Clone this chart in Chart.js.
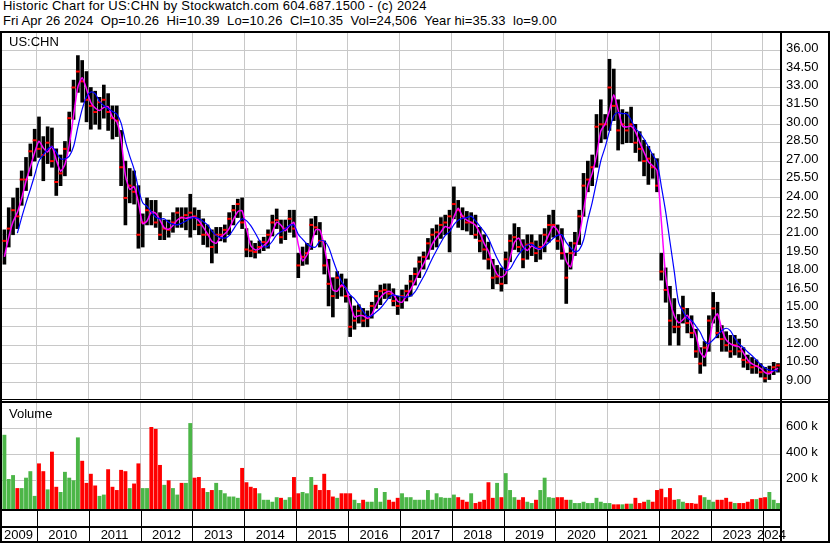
<!DOCTYPE html>
<html>
<head>
<meta charset="utf-8">
<script src="https://cdn.jsdelivr.net/npm/chart.js@4.4.1/dist/chart.umd.min.js"></script>
<style>
body { margin:0; background:#fff; width:830px; height:543px; overflow:hidden; position:relative; font-family:Arial, "Liberation Sans", sans-serif; }
.t { position:absolute; font-size:13px; line-height:15px; white-space:pre; color:#000; }
.k { position:absolute; background:#000; }
canvas { position:absolute; left:0; }
</style>
</head>
<body>
<div class="t" style="left:3px;top:-2px;letter-spacing:0.22px">Historic Chart for US:CHN by Stockwatch.com 604.687.1500 - (c) 2024</div>
<div class="t" style="left:3px;top:13px;letter-spacing:0.1px">Fri Apr 26 2024  Op=10.26  Hi=10.39  Lo=10.26  Cl=10.35  Vol=24,506  Year hi=35.33  lo=9.00</div>
<canvas id="price" width="830" height="366" style="top:33px"></canvas>
<canvas id="vol" width="830" height="140" style="top:403px"></canvas>
<div class="t" style="left:9px;top:34px">US:CHN</div>
<div class="t" style="left:9px;top:406px">Volume</div>
<div class="k" style="left:0;top:31px;width:830px;height:2px"></div>
<div class="k" style="left:0;top:31px;width:2px;height:512px"></div>
<div class="k" style="left:828px;top:31px;width:2px;height:512px"></div>
<div class="k" style="left:780px;top:31px;width:2px;height:512px"></div>
<div class="k" style="left:0;top:399px;width:830px;height:1px"></div>
<div class="k" style="left:0;top:401px;width:830px;height:2px"></div>
<div class="k" style="left:0;top:541px;width:830px;height:2px"></div>
<script>
// monthly bars, Apr 2009 .. Apr 2024
var firstYear = 2009, firstMonth = 4;

var highs = [
  19.5, 21.4, 23.2, 24.0, 24.8, 26.2, 27.3, 28.4, 29.6,                 // 2009
  30.6, 29.0, 29.8, 29.7, 28.0, 27.5, 28.6, 31.0, 33.6, 35.6, 35.2, 34.3, // 2010
  33.0, 32.7, 32.2, 33.2, 32.5, 31.5, 31.5, 29.5, 27.0, 26.4, 26.2, 25.0, // 2011
  22.7, 24.0, 23.8, 23.8, 22.8, 22.2, 22.2, 22.8, 23.2, 23.2, 23.2, 24.3, // 2012
  23.2, 23.0, 22.3, 21.8, 21.4, 21.6, 21.6, 21.8, 22.8, 23.4, 23.9, 24.0, // 2013
  21.5, 20.5, 20.3, 20.5, 20.8, 21.4, 22.6, 23.1, 22.2, 22.2, 23.0, 23.0, // 2014
  19.5, 20.0, 20.3, 22.3, 22.5, 22.0, 20.5, 19.0, 17.5, 18.0, 17.8, 17.4, // 2015
  16.0, 15.2, 15.3, 15.0, 14.8, 15.5, 16.4, 16.9, 17.0, 17.0, 16.6, 16.0, // 2016
  16.5, 16.9, 17.7, 18.3, 19.2, 19.6, 20.7, 21.5, 21.8, 22.4, 22.6, 23.0, // 2017
  24.9, 23.8, 23.2, 22.9, 22.8, 22.6, 21.6, 21.0, 20.4, 19.0, 18.5, 18.3, // 2018
  19.6, 21.0, 21.9, 21.6, 20.6, 21.0, 21.0, 20.5, 21.0, 21.5, 22.6, 23.0, // 2019
  21.8, 21.5, 19.5, 20.4, 21.2, 23.0, 26.0, 27.0, 27.5, 30.8, 32.0, 30.8, // 2020
  35.3, 34.5, 32.0, 31.2, 31.0, 31.4, 30.0, 29.4, 28.7, 28.2, 27.6, 27.2, // 2021
  19.5, 18.3, 16.8, 15.8, 14.5, 16.0, 15.0, 14.4, 13.3, 11.8, 12.3, 14.4, // 2022
  16.3, 15.5, 13.6, 13.1, 12.8, 12.8, 12.5, 11.8, 11.2, 11.0, 10.8, 10.5, // 2023
  10.2, 10.3, 10.6, 10.5                                                  // 2024
];
var lows = [
  17.3, 18.6, 20.0, 21.0, 21.5, 23.4, 24.6, 25.8, 27.0,
  27.3, 25.4, 26.8, 26.5, 24.2, 25.0, 25.8, 27.8, 30.4, 32.6, 31.8, 30.2,
  29.6, 30.0, 29.6, 30.5, 29.5, 28.8, 29.0, 25.0, 21.8, 23.6, 23.5, 19.9,
  20.0, 21.8, 21.8, 21.6, 20.6, 20.6, 20.8, 21.2, 21.6, 21.6, 21.4, 20.8,
  21.4, 21.0, 20.2, 20.0, 18.7, 19.5, 20.5, 20.4, 21.0, 21.8, 22.4, 21.5,
  19.2, 19.2, 19.1, 19.5, 19.7, 19.9, 20.9, 21.5, 20.3, 20.6, 21.2, 20.8,
  17.5, 18.5, 18.6, 19.8, 21.0, 20.0, 17.8, 15.2, 14.3, 15.8, 16.0, 15.5,
  12.7, 13.3, 13.8, 13.5, 13.5, 14.2, 15.0, 15.3, 15.8, 15.8, 15.2, 14.5,
  15.0, 15.6, 16.0, 16.9, 17.5, 18.2, 19.0, 19.8, 20.0, 20.7, 21.0, 19.6,
  22.3, 21.6, 21.4, 21.3, 21.0, 20.7, 19.6, 19.0, 18.2, 16.6, 17.0, 16.4,
  17.0, 18.8, 19.8, 19.6, 18.3, 19.0, 19.3, 18.8, 19.0, 19.6, 20.4, 20.8,
  19.8, 19.0, 15.4, 18.2, 19.3, 20.2, 22.5, 24.5, 25.0, 26.5, 28.5, 28.8,
  29.5, 30.3, 27.9, 28.4, 28.5, 28.5, 27.7, 27.0, 25.8, 25.1, 25.6, 24.5,
  17.3, 15.5, 12.0, 13.0, 12.0, 13.8, 13.0, 12.6, 11.0,  9.7, 10.3, 11.5,
  13.8, 12.6, 11.5, 11.5, 11.0, 11.2, 11.0, 10.2, 10.0,  9.7,  9.7,  9.4,
   9.0,  9.2,  9.6,  9.8
];
var closes = [
  18.8, 20.5, 21.5, 23.0, 22.5, 25.5, 25.5, 27.8, 28.7,
  28.0, 27.5, 28.5, 27.0, 25.3, 26.0, 28.0, 30.5, 33.0, 34.3, 33.5, 32.0,
  31.5, 31.0, 31.8, 32.0, 31.0, 30.5, 30.3, 26.5, 24.0, 25.0, 24.5, 21.0,
  22.0, 23.0, 22.8, 22.0, 21.0, 21.5, 21.4, 22.0, 22.8, 22.4, 22.6, 22.8,
  22.5, 21.8, 21.0, 21.0, 20.0, 21.0, 21.0, 21.4, 22.3, 23.0, 23.5, 22.0,
  19.8, 19.7, 19.6, 20.0, 20.4, 21.0, 22.0, 22.2, 20.8, 21.5, 22.3, 21.5,
  18.5, 19.2, 19.5, 21.8, 21.6, 20.5, 18.5, 17.0, 16.0, 17.5, 16.8, 16.0,
  13.5, 14.0, 14.8, 14.0, 14.2, 15.2, 16.0, 16.4, 16.5, 16.2, 15.6, 15.2,
  16.0, 16.4, 17.2, 17.8, 18.8, 19.2, 20.3, 21.0, 21.2, 21.8, 22.0, 22.5,
  23.5, 23.0, 22.5, 22.0, 22.0, 21.0, 20.5, 19.8, 19.0, 17.5, 17.6, 17.0,
  19.0, 20.5, 20.8, 20.0, 19.0, 20.2, 20.3, 19.5, 20.0, 21.0, 21.8, 21.8,
  20.5, 19.5, 17.5, 19.5, 20.3, 22.5, 25.0, 25.5, 26.5, 29.8, 30.0, 30.0,
  33.0, 31.5, 29.5, 30.0, 29.5, 30.0, 28.5, 28.0, 27.0, 27.2, 26.5, 25.0,
  18.0, 16.5, 14.0, 13.5, 13.5, 15.0, 13.8, 13.0, 11.5, 10.5, 11.8, 14.0,
  15.0, 13.0, 12.5, 12.0, 11.5, 12.0, 11.5, 10.8, 10.6, 10.2, 10.3,  9.8,
   9.3,  9.8, 10.2, 10.35
];
// volume, thousands of shares
var volumes = [
  220, 550, 210, 240, 140, 140, 220, 270, 80,
  330, 270, 130, 420, 150, 110, 265, 220, 200, 530, 350, 180,
  250, 160, 80, 90, 285, 150, 125, 280, 270, 140, 175, 330,
  140, 140, 610, 595, 318, 165, 200, 140, 90, 180, 180, 640,
  220, 225, 140, 110, 125, 180, 125, 100, 75, 75, 65, 295,
  185, 150, 140, 100, 50, 50, 35, 70, 65, 50, 70, 225,
  100, 110, 100, 225, 165, 125, 250, 125, 75, 65, 100, 100,
  100, 50, 25, 50, 35, 35, 140, 35, 110, 50, 35, 65,
  100, 70, 70, 50, 50, 50, 125, 50, 100, 70, 65, 65,
  90, 70, 50, 35, 100, 25, 35, 50, 185, 65, 180, 70,
  255, 125, 70, 50, 70, 35, 25, 50, 125, 220, 70, 65,
  70, 70, 50, 50, 25, 25, 35, 25, 25, 65, 35, 25,
  25, 15, 15, 15, 20, 20, 65, 25, 35, 50, 35, 125,
  135, 70, 140, 50, 55, 35, 25, 25, 20, 85, 70, 50,
  35, 50, 50, 65, 35, 25, 25, 25, 35, 55, 55, 65,
  70, 110, 50, 25
];
var priceTicks = [9, 10.5, 12, 13.5, 15, 16.5, 18, 19.5, 21, 22.5, 24, 25.5, 27, 28.5, 30, 31.5, 33, 34.5, 36];
var volTicks = [200, 400, 600];
var years = [2009, 2010, 2011, 2012, 2013, 2014, 2015, 2016, 2017, 2018, 2019, 2020, 2021, 2022, 2023, 2024];

var xMin = 2009.29, xMax = 2024.33;
var gridCol = '#c8c8c8';
var tickFont = { family: 'Arial, "Liberation Sans"', size: 13 };

// month centres as fractional years
var times = [];
for (var i = 0; i < closes.length; i++) {
    var m = firstMonth - 1 + i;
    times.push(firstYear + Math.floor(m / 12) + ((m % 12) + 0.5) / 12);
}

var barData = [], closeData = [], fastMA = [], slowMA = [], volData = [], volCol = [];
var mids = [];
for (var i = 0; i < closes.length; i++) {
    barData.push({x: times[i], y: [lows[i], highs[i]]});
    closeData.push({x: times[i], y: closes[i]});
    mids.push((highs[i] + lows[i]) / 2);
    volData.push({x: times[i], y: volumes[i]});
    if (i == 0 || closes[i] >= closes[i - 1]) volCol.push('#4cb648'); else volCol.push('#ff0000');
}
// moving averages like the original (short one in pink, longer one in blue)
for (var i = 1; i < mids.length; i++) fastMA.push({x: times[i], y: (mids[i] + mids[i - 1]) / 2});
for (var i = 4; i < mids.length; i++) {
    var s = 0;
    for (var j = i - 4; j <= i; j++) s += mids[j];
    slowMA.push({x: times[i], y: s / 5});
}

function xAxis() {
    return {
        type: 'linear', min: xMin, max: xMax, offset: false,
        grid: { color: gridCol, lineWidth: 1, drawTicks: false, offset: false },
        border: { display: false },
        ticks: { display: false },
        afterBuildTicks: function(s) { s.ticks = years.slice(1).map(function(v) { return {value: v}; }); },
        afterFit: function(s) { s.height = 0; s.paddingLeft = 0; s.paddingRight = 0; }
    };
}

function noPad(s) { s.width = 50; s.paddingTop = 0; s.paddingBottom = 0; }

new Chart(document.getElementById('price'), {
    type: 'bar',
    data: {
        datasets: [
            { type: 'line', data: slowMA, borderColor: '#0000ff', borderWidth: 1.2, pointRadius: 0, tension: 0.3, order: 1 },
            { type: 'line', data: fastMA, borderColor: '#ff00ff', borderWidth: 1.5, pointRadius: 0, tension: 0.2, order: 2 },
            { type: 'line', data: closeData, showLine: false, pointStyle: 'line', pointRadius: 2, borderColor: '#ff0000', borderWidth: 2, order: 3 },
            { type: 'bar', data: barData, backgroundColor: '#000', barThickness: 3, borderWidth: 0, borderSkipped: false, order: 4 }
        ]
    },
    options: {
        responsive: false, animation: false, devicePixelRatio: 1,
        layout: { padding: 0, autoPadding: false },
        plugins: { legend: { display: false }, tooltip: { enabled: false } },
        scales: {
            x: xAxis(),
            y: {
                position: 'right', min: 7.615, max: 37.44,
                grid: { color: gridCol, lineWidth: 1, drawTicks: false },
                border: { display: false },
                ticks: { color: '#000', font: tickFont, padding: 6, labelOffset: -2,
                    callback: function(v) { return v.toFixed(2); } },
                afterBuildTicks: function(s) { s.ticks = priceTicks.map(function(v) { return {value: v}; }); },
                afterFit: noPad
            }
        }
    }
});

var rowsPlugin = {
    id: 'rows',
    afterDraw: function(chart) {
        var ctx = chart.ctx, sx = chart.scales.x, a = chart.chartArea;
        ctx.save();
        ctx.fillStyle = '#000';
        ctx.fillRect(0, a.bottom, a.right, 2);
        ctx.fillRect(0, a.bottom + 17, a.right, 2);
        ctx.font = '13px Arial, "Liberation Sans"';
        ctx.textAlign = 'center';
        ctx.textBaseline = 'alphabetic';
        for (var i = 0; i < years.length; i++) {
            var p0 = Math.max(a.left, sx.getPixelForValue(years[i]));
            var p1 = Math.min(a.right, sx.getPixelForValue(years[i] + 1));
            if (i > 0) ctx.fillRect(Math.round(p0), a.bottom + 2, 1, 34);
            ctx.fillText(String(years[i]), (p0 + p1) / 2, a.bottom + 30);
        }
        ctx.restore();
    }
};

new Chart(document.getElementById('vol'), {
    type: 'bar',
    data: {
        datasets: [
            { data: volData, backgroundColor: volCol, base: -21, barPercentage: 0.9, categoryPercentage: 1, borderWidth: 0 }
        ]
    },
    options: {
        responsive: false, animation: false, devicePixelRatio: 1,
        layout: { padding: { top: 0, bottom: 34, left: 0, right: 0 }, autoPadding: false },
        plugins: { legend: { display: false }, tooltip: { enabled: false } },
        scales: {
            x: xAxis(),
            y: {
                position: 'right', min: -20.8, max: 794.6,
                grid: { color: gridCol, lineWidth: 1, drawTicks: false },
                border: { display: false },
                ticks: { color: '#000', font: tickFont, padding: 6, labelOffset: -2,
                    callback: function(v) { return v + ' k'; } },
                afterBuildTicks: function(s) { s.ticks = volTicks.map(function(v) { return {value: v}; }); },
                afterFit: noPad
            }
        }
    },
    plugins: [rowsPlugin]
});
</script>
</body>
</html>
